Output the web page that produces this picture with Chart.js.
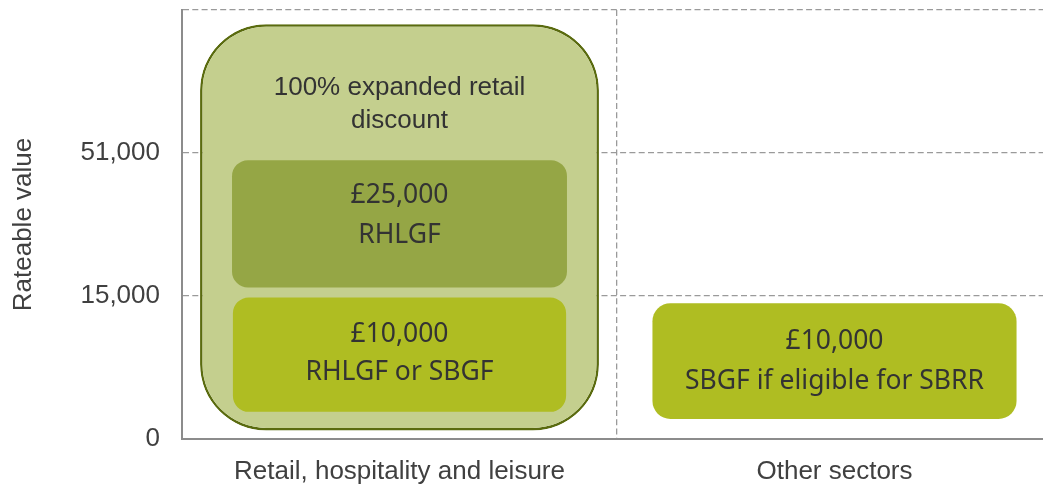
<!DOCTYPE html>
<html>
<head>
<meta charset="utf-8">
<script src="https://cdn.jsdelivr.net/npm/chart.js@4/dist/chart.umd.min.js"></script>
<style>
  html, body { margin: 0; padding: 0; background: #fff; overflow: hidden; }
  #chart { display: block; }
</style>
</head>
<body>
<canvas id="chart" width="1052" height="486"></canvas>
<script>
// categories and the (ordinal) rateable value bands
const sectors = ['Retail, hospitality and leisure', 'Other sectors'];
const yTickLabels = ['0', '15,000', '51,000', ''];

// box extents on the band axis: [from, to]
const discountBox = [[0.06, 2.9], null];
const rhlgfBox = [[1.06, 1.95], null];
const sharedBox = [[0.19, 0.99], null];
const sbgfBox = [null, [0.14, 0.95]];

const discountText = ['100% expanded retail', 'discount'];
const rhlgfText = ['£25,000', 'RHLGF'];
const sharedText = ['£10,000', 'RHLGF or SBGF'];
const sbgfText = ['£10,000', 'SBGF if eligible for SBRR'];

const AXIS_FONT = "'Liberation Sans', Arial, sans-serif";
const BOX_FONT = "'Noto Sans', 'Open Sans', sans-serif";

// writes the text lines inside each box, using the bar elements' positions
const boxLabels = {
    id: 'boxLabels',
    afterDatasetsDraw(chart) {
        const ctx = chart.ctx;
        chart.data.datasets.forEach((ds, di) => {
            if (!ds.labelLines) return;
            const meta = chart.getDatasetMeta(di);
            meta.data.forEach((bar, i) => {
                if (ds.data[i] == null) return;
                const top = Math.min(bar.y, bar.base);
                const bottom = Math.max(bar.y, bar.base);
                const lines = ds.labelLines;
                const lh = ds.labelLineHeight;
                let y = ds.labelTopGap != null
                    ? top + ds.labelTopGap
                    : (top + bottom) / 2 - (lines.length - 1) * lh / 2 + (ds.labelShift || 0);
                ctx.save();
                ctx.font = ds.labelFont;
                ctx.fillStyle = '#333333';
                ctx.textAlign = 'center';
                ctx.textBaseline = 'middle';
                lines.forEach(line => {
                    ctx.fillText(line, bar.x, y);
                    y += lh;
                });
                ctx.restore();
            });
        });
    }
};

new Chart(document.getElementById('chart'), {
    type: 'bar',
    data: {
        labels: sectors,
        datasets: [
            {
                data: discountBox,
                order: 2,
                backgroundColor: '#c4cf8e',
                borderColor: '#5a6b0f',
                borderWidth: 2.5,
                borderRadius: 66,
                borderSkipped: false,
                barPercentage: 0.917,
                labelLines: discountText,
                labelFont: '26px ' + AXIS_FONT,
                labelLineHeight: 33,
                labelTopGap: 64
            },
            {
                data: rhlgfBox,
                order: 1,
                backgroundColor: '#95a645',
                borderWidth: 0,
                borderRadius: 16,
                borderSkipped: false,
                barPercentage: 0.77,
                labelLines: rhlgfText,
                labelFont: '26.5px ' + BOX_FONT,
                labelLineHeight: 40,
                labelShift: -8
            },
            {
                data: sharedBox,
                order: 1,
                backgroundColor: '#afbd22',
                borderWidth: 0,
                borderRadius: 16,
                borderSkipped: false,
                barPercentage: 0.766,
                labelLines: sharedText,
                labelFont: '26.5px ' + BOX_FONT,
                labelLineHeight: 38,
                labelShift: -1
            },
            {
                data: sbgfBox,
                order: 1,
                backgroundColor: '#afbd22',
                borderWidth: 0,
                borderRadius: 18,
                borderSkipped: false,
                barPercentage: 0.837,
                labelLines: sbgfText,
                labelFont: '26.5px ' + BOX_FONT,
                labelLineHeight: 40,
                labelShift: 0
            }
        ]
    },
    options: {
        responsive: false,
        animation: false,
        devicePixelRatio: 1,
        layout: { padding: { top: 10 } },
        datasets: { bar: { grouped: false, categoryPercentage: 1 } },
        plugins: { legend: { display: false }, tooltip: { enabled: false } },
        scales: {
            x: {
                grid: {
                    color: '#9a9a9a',
                    lineWidth: 1.3,
                    drawTicks: false
                },
                border: { color: '#8c8c8c', width: 2, dash: [6, 3.3] },
                ticks: {
                    color: '#404040',
                    padding: 17,
                    font: { family: AXIS_FONT, size: 26 }
                },
                afterFit: s => {
                    s.height = 47;
                    s.paddingLeft = 0;
                    s.paddingRight = 0;
                }
            },
            y: {
                min: 0,
                max: 3,
                grid: {
                    color: '#9a9a9a',
                    lineWidth: 1.3,
                    drawTicks: false
                },
                border: { color: '#8c8c8c', width: 2, dash: [6, 3.3] },
                ticks: {
                    stepSize: 1,
                    color: '#404040',
                    padding: 22,
                    font: { family: AXIS_FONT, size: 26 },
                    callback: v => yTickLabels[v]
                },
                title: {
                    display: true,
                    text: 'Rateable value',
                    color: '#404040',
                    padding: { top: 8 },
                    font: { family: AXIS_FONT, size: 26 }
                },
                afterFit: s => {
                    s.width = 182;
                    s.paddingTop = 0;
                    s.paddingBottom = 0;
                }
            }
        }
    },
    plugins: [boxLabels]
});
</script>
</body>
</html>
